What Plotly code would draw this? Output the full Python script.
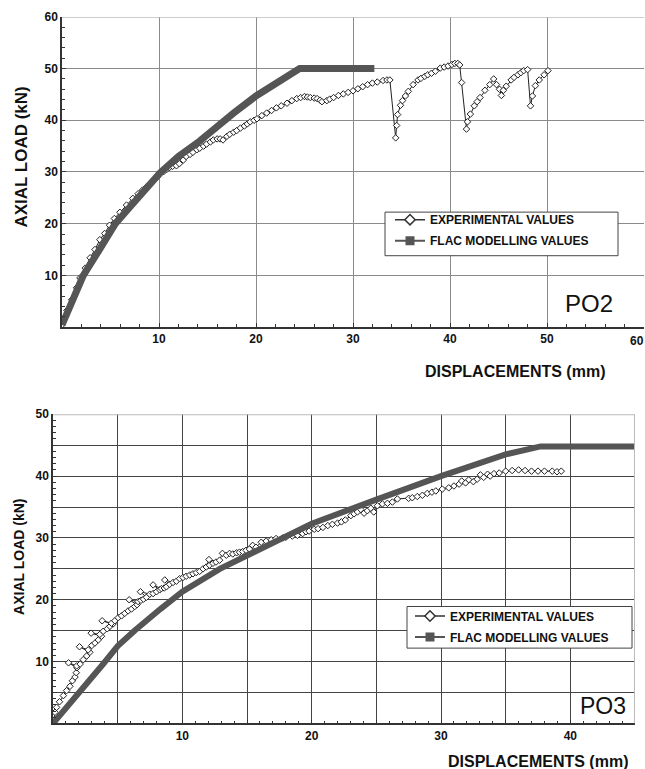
import plotly.graph_objects as go

# ---------------- PO2 (top chart) ----------------
po2_exp_x = [0, 0.5, 1.0, 1.5, 1.85, 2.4, 2.9, 3.4, 3.9, 4.4,
             4.9, 5.4, 5.97, 6.65, 7.3, 7.85, 8.3, 8.7, 9.1, 9.4,
             9.8, 10.1, 10.5, 10.8, 11.1, 11.4, 11.8, 12.1, 12.5, 12.8,
             13.2, 13.5, 13.9, 14.2, 14.6, 14.9, 15.3, 15.6, 16.0, 16.3,
             16.6, 17.0, 17.3, 17.7, 18.0, 18.4, 18.8, 19.1, 19.4, 19.8,
             20.1, 20.6, 21.1, 21.6, 22.1, 22.6, 23.2, 23.7, 24.2, 24.6,
             25.0, 25.3, 25.6, 26.0, 26.3, 26.6, 26.8, 27.3, 27.6, 28.0,
             28.5, 29.0, 29.5, 30.0, 30.5, 31.0, 31.5, 32.0, 32.5, 33.1,
             33.5, 33.8, 34.4, 34.5, 34.6, 34.9, 35.1, 35.4, 35.7, 36.2,
             36.7, 37.0, 37.4, 37.7, 38.1, 38.5, 39.0, 39.4, 39.8, 40.2,
             40.5, 40.8, 41.0, 41.2, 41.7, 41.8, 42.1, 42.5, 42.8, 43.1,
             43.6, 44.1, 44.5, 44.8, 45.1, 45.3, 45.5, 45.8, 46.3, 46.6,
             47.0, 47.3, 47.6, 48.0, 48.3, 48.5, 48.8, 49.2, 49.7, 50.1]
po2_exp_y = [0.4, 3.2, 5.3, 7.6, 9.5, 11.4, 13.4, 15.0, 16.9, 18.1,
             19.7, 21.0, 22.2, 23.6, 24.9, 25.8, 26.5, 27.1, 27.8, 28.4,
             29.0, 29.6, 30.1, 30.5, 30.9, 31.1, 31.2, 31.6, 32.3, 33.0,
             33.4, 33.8, 34.3, 34.6, 35.0, 35.4, 35.8, 36.2, 36.4, 36.4,
             36.2, 36.9, 37.3, 37.7, 38.0, 38.5, 38.9, 39.3, 39.7, 40.0,
             40.3, 40.9, 41.4, 41.9, 42.4, 42.8, 43.3, 43.8, 44.2, 44.4,
             44.6, 44.5, 44.4, 44.3, 44.2, 43.9, 43.6, 43.8, 44.1, 44.4,
             44.8, 45.1, 45.4, 45.7, 46.1, 46.5, 46.9, 47.2, 47.4, 47.7,
             47.8, 47.8, 36.6, 39.0, 41.1, 42.9, 43.8, 44.7, 45.6, 46.9,
             47.8, 48.1, 48.5, 48.8, 49.1, 49.5, 50.1, 50.3, 50.5, 50.8,
             51.0, 51.0, 50.7, 47.3, 38.3, 39.7, 41.2, 42.8, 43.6, 44.4,
             45.8, 46.9, 48.0, 46.9, 46.0, 44.8, 45.8, 46.6, 47.8, 48.3,
             48.8, 49.2, 49.6, 49.8, 42.8, 44.7, 46.7, 47.8, 48.8, 49.6]
po2_flac_x = [0, 1.0, 2.2, 3.8, 5.5, 6.8, 8.0, 10.1, 12.0, 14.2, 17.7, 20.0, 24.5, 32.2]
po2_flac_y = [0.4, 4.9, 10.0, 14.8, 20.0, 22.8, 25.2, 29.8, 33.0, 36.0, 41.4, 44.7, 50.0, 50.0]
po2_xticks = [10, 20, 30, 40, 50, 60]
po2_xlabels = ["10", "20", "30", "40", "50", ""]   # "60" sits on the figure edge (drawn below)
po2_yticks = [10, 20, 30, 40, 50, 60]

# ---------------- PO3 (bottom chart) ----------------
po3_exp_x = [0.03, 0.15, 0.28, 0.5, 0.8, 1.05, 1.31, 1.5, 1.7, 1.8, 1.85,
             1.2, 1.83, 2.1, 2.34, 2.6, 2.85,
             2.05, 2.72, 3.0, 3.24, 3.5, 3.75,
             2.95, 3.62, 3.88, 4.19, 4.4, 4.65,
             3.8, 4.52, 4.78, 5.04, 5.3, 5.55, 5.81, 6.07, 6.32, 6.5,
             5.89, 6.58, 6.8, 7.0, 7.22,
             6.76, 7.48, 7.74, 8.0, 8.25,
             7.74, 8.38, 8.6, 8.77, 9.02,
             8.64, 9.28, 9.54, 9.79, 10.05, 10.3, 10.57, 10.82, 11.08, 11.34, 11.6, 11.85,
             12.06, 12.1, 12.37, 12.6, 12.88,
             13.1, 13.4, 13.65, 13.9, 14.2, 14.42, 14.67, 14.93, 15.19, 15.44,
             15.7, 16.1, 16.48, 16.87, 17.25, 17.77, 18.0, 18.5, 18.9, 19.3,
             19.56, 19.8, 20.2, 20.5, 20.87, 21.25, 21.6, 22.0, 22.3, 22.6,
             23.03, 23.28, 23.54, 23.8, 24.05, 24.3, 24.57, 24.8, 25.08, 25.47,
             25.86, 26.24, 26.63, 27.5, 27.78, 28.17, 28.56, 28.94, 29.3, 29.6,
             30.1, 30.6, 31.0, 31.4, 31.6, 31.9, 32.15, 32.5, 32.8, 33.05,
             33.3, 33.6, 33.8, 34.1, 34.5, 35.0, 35.5, 36.0, 36.5, 37.0,
             37.5, 38.0, 38.6, 38.97, 39.3]
po3_exp_y = [0.5, 1.8, 2.6, 3.5, 4.5, 5.3, 6.0, 6.9, 7.5, 8.2, 9.0,
             9.8, 9.3, 9.6, 10.3, 10.9, 11.5,
             12.4, 11.9, 12.6, 13.0, 13.5, 14.1,
             14.6, 14.4, 14.9, 15.3, 15.7, 16.1,
             16.6, 16.2, 16.6, 17.1, 17.4, 17.8, 18.2, 18.5, 18.9, 19.2,
             20.0, 19.7, 19.9, 20.1, 20.4,
             21.3, 20.9, 21.0, 21.3, 21.6,
             22.4, 21.8, 21.9, 22.1, 22.5,
             23.2, 22.8, 23.0, 23.4, 23.6, 23.8, 24.0, 24.2, 24.4, 24.6, 25.0, 25.3,
             26.5, 25.6, 25.9, 26.1, 26.4,
             27.5, 27.2, 27.5, 27.4, 27.6, 27.7, 27.8, 28.0, 28.2, 28.8,
             28.5, 29.3, 29.5, 29.7, 29.9, 30.0, 30.1, 30.3, 30.4, 30.7,
             31.0, 31.1, 31.4, 31.5, 31.7, 32.0, 32.2, 32.4, 32.6, 32.9,
             33.6, 33.9, 34.2, 34.6, 34.0, 34.4, 34.8, 34.2, 35.2, 35.5,
             35.6, 35.8, 36.3, 36.4, 36.5, 36.7, 36.9, 37.2, 37.4, 37.6,
             37.9, 38.1, 38.4, 38.7, 39.2, 38.9, 39.4, 39.1, 39.5, 40.2,
             39.8, 40.3, 40.0, 40.4, 40.5, 40.8, 40.9, 41.0, 40.9, 40.8,
             40.8, 40.8, 40.8, 40.7, 40.8]
po3_flac_x = [0, 1.0, 2.2, 3.8, 5.0, 6.3, 8.3, 10.0, 12.9, 15.2, 18.0, 20.0, 25.0, 30.0, 35.0, 37.7, 45.0]
po3_flac_y = [0, 2.4, 5.4, 9.4, 12.5, 15.0, 18.5, 21.3, 25.0, 27.3, 30.1, 32.3, 36.2, 40.0, 43.5, 44.8, 44.8]
po3_xticks = [5, 10, 15, 20, 25, 30, 35, 40, 45]
po3_xlabels = ["", "10", "", "20", "", "30", "", "40", ""]
po3_yticks = [5, 10, 15, 20, 25, 30, 35, 40, 45, 50]
po3_ylabels = ["", "10", "", "20", "", "30", "", "40", "", "50"]

legend_names = ["EXPERIMENTAL VALUES", "FLAC MODELLING VALUES"]

W, H = 645, 769
FONT = "Liberation Sans, Arial, sans-serif"
FLAC_COLOR = "#555555"
EXP_COLOR = "#222222"

fig = go.Figure()

# --- top chart traces ---
fig.add_trace(go.Scatter(x=po2_exp_x, y=po2_exp_y, mode="lines+markers",
                         line=dict(color=EXP_COLOR, width=1),
                         marker=dict(symbol="diamond", size=5, color="white",
                                     line=dict(color=EXP_COLOR, width=1)),
                         xaxis="x", yaxis="y", showlegend=False, name=legend_names[0]))
fig.add_trace(go.Scatter(x=po2_flac_x, y=po2_flac_y, mode="lines",
                         line=dict(color=FLAC_COLOR, width=7),
                         xaxis="x", yaxis="y", showlegend=False, name=legend_names[1]))
# --- bottom chart traces ---
fig.add_trace(go.Scatter(x=po3_exp_x, y=po3_exp_y, mode="lines+markers",
                         line=dict(color=EXP_COLOR, width=1),
                         marker=dict(symbol="diamond", size=5, color="white",
                                     line=dict(color=EXP_COLOR, width=1)),
                         xaxis="x2", yaxis="y2", showlegend=False, name=legend_names[0]))
fig.add_trace(go.Scatter(x=po3_flac_x, y=po3_flac_y, mode="lines",
                         line=dict(color=FLAC_COLOR, width=6),
                         xaxis="x2", yaxis="y2", showlegend=False, name=legend_names[1]))

# --- legend entries ---
for lg, xa, ya in (("legend", "x", "y"), ("legend2", "x2", "y2")):
    fig.add_trace(go.Scatter(x=[None], y=[None], mode="lines+markers", name=legend_names[0],
                             line=dict(color="#333333", width=1.5),
                             marker=dict(symbol="diamond", size=8, color="white",
                                         line=dict(color="#333333", width=1.5)),
                             xaxis=xa, yaxis=ya, legend=lg, legendgroup=lg + "a", showlegend=True))
    fig.add_trace(go.Scatter(x=[None], y=[None], mode="lines+markers", name=legend_names[1],
                             line=dict(color=FLAC_COLOR, width=2),
                             marker=dict(symbol="square", size=9, color=FLAC_COLOR),
                             xaxis=xa, yaxis=ya, legend=lg, legendgroup=lg + "b", showlegend=True))

tickfont = dict(family=FONT, size=12, color="#111", weight="bold")

def axis_common(grid_color, grid_width, minor_dtick):
    return dict(showline=True, linecolor="#333", linewidth=1.5, ticks="inside", ticklen=4,
                tickcolor="#333", showgrid=True, gridcolor=grid_color, gridwidth=grid_width,
                zeroline=False, tickfont=tickfont, fixedrange=True,
                minor=dict(tickmode="linear", tick0=0, dtick=minor_dtick, ticks="inside",
                           ticklen=3, tickcolor="#333", showgrid=False))

legend_font = dict(family=FONT, size=12, color="#111", weight="bold")

fig.update_layout(
    width=W, height=H, margin=dict(l=0, r=0, t=0, b=0),
    paper_bgcolor="white", plot_bgcolor="white",
    xaxis=dict(domain=[62 / W, 644 / W], range=[0, 60], anchor="y", tickmode="array",
               tickvals=po2_xticks, ticktext=po2_xlabels, **axis_common("#8a8a8a", 1, 2)),
    yaxis=dict(domain=[1 - 323 / H, 1 - 10 / H], range=[0, 60], anchor="x", tickmode="array",
               tickvals=po2_yticks, **axis_common("#8a8a8a", 1, 2)),
    xaxis2=dict(domain=[53 / W, 635 / W], range=[0, 45], anchor="y2", tickmode="array",
                tickvals=po3_xticks, ticktext=po3_xlabels, **axis_common("#444444", 1.3, 1)),
    yaxis2=dict(domain=[1 - 723 / H, 1 - 411 / H], range=[0, 50], anchor="x2", tickmode="array",
                tickvals=po3_yticks, ticktext=po3_ylabels, **axis_common("#444444", 1.3, 1)),
    legend=dict(x=390 / W, y=1 - 200 / H, xanchor="left", yanchor="top",
                borderwidth=0, bgcolor="rgba(0,0,0,0)", tracegroupgap=2, font=legend_font),
    legend2=dict(x=410 / W, y=1 - 600 / H, xanchor="left", yanchor="top",
                 borderwidth=0, bgcolor="rgba(0,0,0,0)", tracegroupgap=2, font=legend_font),
)

# legend frames
fig.add_shape(type="rect", xref="paper", yref="paper", x0=385 / W, x1=618 / W,
              y0=1 - 251 / H, y1=1 - 207 / H, line=dict(color="#444", width=1),
              fillcolor="white", layer="above")
fig.add_shape(type="rect", xref="paper", yref="paper", x0=407 / W, x1=632 / W,
              y0=1 - 647 / H, y1=1 - 605 / H, line=dict(color="#444", width=1),
              fillcolor="white", layer="above")

# light frame edges
fig.add_shape(type="line", xref="x2", yref="y2", x0=0, x1=45, y0=50, y1=50,
              line=dict(color="#bbbbbb", width=2), layer="above")
fig.add_shape(type="line", xref="x2", yref="y2", x0=45, x1=45, y0=0, y1=50,
              line=dict(color="#bbbbbb", width=2), layer="above")
fig.add_shape(type="line", xref="x", yref="y", x0=0, x1=60, y0=60, y1=60,
              line=dict(color="#bbbbbb", width=1.5), layer="above")

def ann(text, x, y, size, angle=0, bold=True, xanchor="center"):
    fig.add_annotation(text=text, x=x / W, y=1 - y / H, xref="paper", yref="paper",
                       showarrow=False, textangle=angle, xanchor=xanchor, yanchor="middle",
                       font=dict(family=FONT, size=size, color="#111",
                                 weight="bold" if bold else "normal"))

ann("60", 646, 337, 12, xanchor="right")
ann("DISPLACEMENTS (mm)", 515, 368, 16)
ann("DISPLACEMENTS (mm)", 538, 761, 16)
ann("AXIAL LOAD (kN)", 22, 152, 17, angle=-90)
ann("AXIAL LOAD (kN)", 19, 555, 14, angle=-90)
ann("PO2", 589, 299, 24, bold=False)
ann("PO3", 603, 705, 23, bold=False)

post = "document.body.style.margin='0';"
fig.write_html("out.html", config={"displayModeBar": False}, post_script=post)
